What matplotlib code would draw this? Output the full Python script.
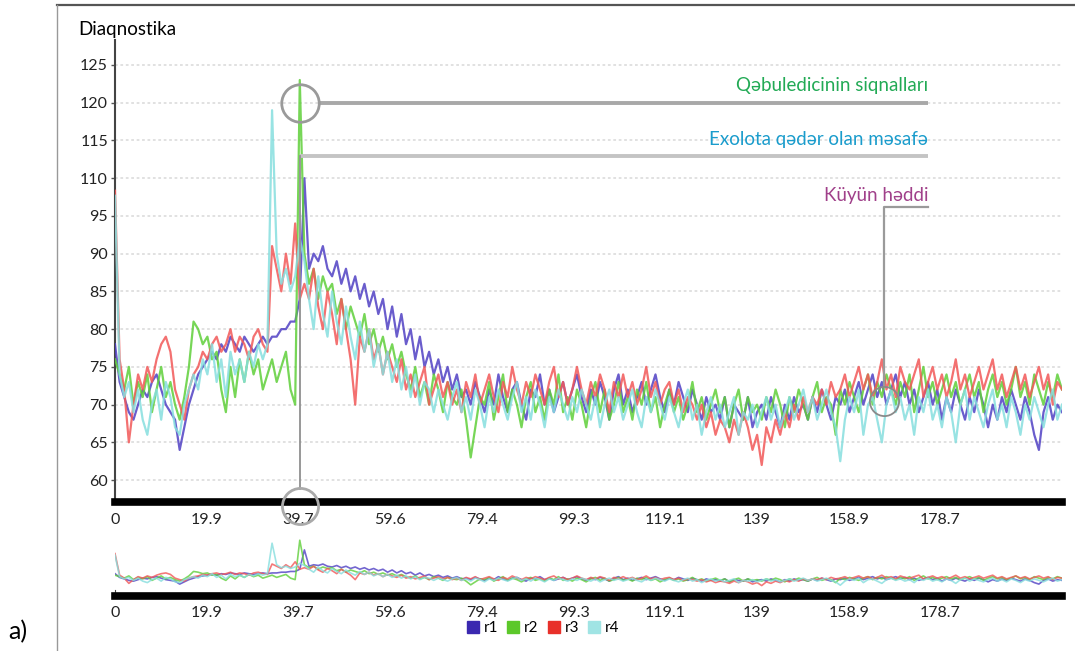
import matplotlib
matplotlib.use('Agg')
import matplotlib.pyplot as plt
from matplotlib.lines import Line2D
import numpy as np

plt.rcParams['font.family'] = ['Lato', 'DejaVu Sans']

# --- data (one value per x unit) ---
x = np.arange(0, 206)

r1 = [78, 73, 71, 69, 68, 70, 72, 71, 73, 74,
      72, 70, 69, 68, 64, 67, 70, 72, 74, 75,
      76, 77, 76, 78, 77, 79, 78, 77, 79, 78,
      77, 78, 79, 78, 79, 79, 80, 80, 81, 81,
      84, 110, 88, 90, 89, 91, 88, 87, 89, 86,
      88, 85, 87, 84, 86, 83, 85, 82, 84, 80,
      83, 79, 82, 78, 80, 76, 79, 75, 77, 74,
      76, 73, 75, 72, 74, 71, 72, 70, 73, 71,
      69, 72, 70, 74, 71, 69, 72, 73, 70, 68,
      72, 71, 74, 70, 72, 69, 71, 73, 70, 72,
      74, 71, 69, 72, 70, 73, 71, 68, 72, 74,
      70, 72, 69, 71, 73, 70, 72, 74, 71, 69,
      72, 70, 73, 71, 69, 72, 70, 68, 71, 69,
      70, 68, 71, 67, 70, 69, 68, 71, 67, 69,
      70, 68, 71, 69, 67, 70, 68, 71, 69, 70,
      68, 71, 69, 72, 70, 68, 71, 70, 72, 69,
      71, 73, 70, 72, 74, 71, 73, 70, 72, 74,
      71, 73, 70, 72, 69, 71, 73, 70, 72, 68,
      71, 69, 72, 70, 68, 71, 69, 72, 70, 67,
      70, 68, 71, 69, 72, 70, 68, 71, 69, 66,
      64, 69, 71, 68, 70, 69]

r2 = [76, 74, 72, 75, 70, 73, 71, 74, 69, 72,
      75, 71, 73, 70, 68, 71, 75, 81, 80, 78,
      79, 76, 77, 72, 69, 75, 71, 76, 73, 77,
      74, 76, 72, 74, 76, 73, 75, 77, 72, 70,
      123, 90, 86, 88, 84, 87, 85, 86, 82, 84,
      80, 83, 81, 79, 82, 78, 80, 77, 79, 76,
      78, 75, 77, 74, 72, 75, 71, 73, 70, 74,
      72, 69, 73, 71, 70, 72, 68, 63, 67, 71,
      70, 73, 68, 71, 74, 69, 72, 70, 67, 71,
      73, 69, 71, 68, 72, 70, 74, 69, 71, 68,
      72, 70, 67, 71, 73, 69, 72, 68, 70, 73,
      69, 71, 68, 72, 70, 73, 69, 71, 67, 70,
      72, 69, 71, 68, 70, 73, 69, 71, 68, 70,
      72, 69, 71, 67, 70, 72, 68, 71, 69, 70,
      68, 71, 69, 72, 70, 67, 71, 69, 72, 70,
      68, 71, 73, 69, 71, 70, 66, 72, 70, 73,
      71, 69, 72, 74, 70, 73, 71, 74, 72, 70,
      73, 71, 74, 69, 72, 75, 71, 73, 70, 72,
      74, 71, 73, 70, 72, 74, 71, 73, 69, 72,
      74, 71, 73, 70, 72, 75, 71, 73, 70, 74,
      72, 70, 73, 71, 74, 72]

r3 = [105, 76, 72, 65, 70, 74, 72, 75, 73, 76,
      78, 79, 77, 72, 70, 68, 72, 74, 75, 77,
      76, 78, 79, 77, 78, 80, 77, 79, 78, 76,
      79, 80, 78, 77, 91, 88, 85, 90, 86, 94,
      84, 86, 84, 88, 83, 80, 85, 82, 78, 84,
      80, 76, 70, 79, 77, 80, 76, 78, 74, 77,
      75, 73, 76, 72, 74, 71, 73, 75, 70, 72,
      74, 71, 73, 70, 72, 69, 73, 71, 74, 70,
      72, 74, 71, 69, 73, 71, 75, 72, 70, 73,
      71, 74, 72, 70, 73, 75, 71, 73, 70, 72,
      75, 72, 70, 73, 71, 74, 72, 69, 73, 71,
      74, 71, 73, 70, 72, 75, 71, 73, 70, 72,
      73, 70, 72, 69, 71, 70, 68, 70, 67, 69,
      66, 68, 67, 65, 68, 66, 69, 67, 64, 66,
      62, 67, 65, 68, 66, 69, 67, 70, 68, 71,
      69, 71, 70, 72, 70, 73, 71, 72, 74, 71,
      73, 75, 72, 74, 71, 73, 76, 72, 74, 71,
      75, 73, 72, 74, 76, 71, 73, 75, 72, 74,
      71, 73, 76, 72, 74, 71, 73, 75, 72, 74,
      76, 72, 74, 71, 73, 75, 72, 74, 71, 73,
      75, 72, 74, 70, 73, 72]

r4 = [103, 74, 71, 73, 69, 72, 68, 66, 70, 72,
      68, 73, 71, 67, 66, 70, 72, 74, 72, 76,
      74, 78, 73, 76, 71, 77, 74, 76, 73, 77,
      75, 78, 76, 78, 119, 90, 86, 88, 85, 87,
      92, 89, 84, 80, 87, 82, 79, 85, 81, 78,
      83, 79, 76, 81, 77, 80, 75, 78, 74, 77,
      73, 76, 72, 75, 71, 74, 70, 73, 72, 69,
      72, 70, 68, 71, 73, 69, 71, 68, 72, 70,
      67, 71, 69, 72, 70, 68, 71, 73, 69, 71,
      68, 72, 70, 67, 71, 69, 72, 70, 68, 71,
      69, 72, 70, 68, 71, 67, 70, 72, 69, 71,
      68, 70, 72, 69, 67, 71, 69, 72, 70, 68,
      71, 69, 67, 70, 72, 68, 70, 66, 69, 71,
      68, 70, 67, 69, 71, 66, 69, 68, 70, 67,
      69, 71, 68, 70, 67, 69, 71, 68, 70, 72,
      69, 71, 68, 70, 72, 69, 67, 62.5, 68, 71,
      69, 72, 66, 70, 71, 68, 65, 70, 72, 69,
      71, 68, 70, 66, 71, 69, 72, 68, 70, 67,
      71, 69, 65, 70, 72, 68, 71, 69, 67, 70,
      72, 68, 70, 67, 71, 69, 66, 70, 68, 71,
      69, 67, 70, 72, 68, 70]

series = {'r1': r1, 'r2': r2, 'r3': r3, 'r4': r4}
line_colors = {'r1': '#5040c4', 'r2': '#5fcf3a', 'r3': '#f25858', 'r4': '#86dede'}
legend_colors = {'r1': '#3a28b0', 'r2': '#5cc82a', 'r3': '#e8302a', 'r4': '#a0e4e4'}

xtick_vals = [0, 19.9, 39.7, 59.6, 79.4, 99.3, 119.1, 139, 158.9, 178.7]
ytick_vals = [60, 65, 70, 75, 80, 85, 90, 95, 110, 115, 120, 125]


# broken y axis: 95..110 squeezed into one tick step
def fwd(v):
    v = np.asarray(v, dtype=float)
    return np.where(v <= 95, v, np.where(v <= 110, 95 + (v - 95) / 3, v - 10))


def inv(d):
    d = np.asarray(d, dtype=float)
    return np.where(d <= 95, d, np.where(d <= 100, 95 + (d - 95) * 3, d + 10))


W, H = 1075, 651
fig = plt.figure(figsize=(W / 100, H / 100), dpi=100)
fig.patch.set_facecolor('white')

# ============================================================
# main panel
# ============================================================
ax = fig.add_axes([115 / W, 1 - 502 / H, (1062 - 115) / W, (502 - 40) / H])
ax.set_yscale('function', functions=(fwd, inv))

for name, vals in series.items():
    ax.plot(x, vals, color=line_colors[name], lw=1.6, alpha=0.85, zorder=3)

ax.set_xlim(0, 205)
ax.set_ylim(57.1, 128.3)
ax.set_yticks(ytick_vals)
ax.set_yticklabels([str(v) for v in ytick_vals], fontsize=11.5, color='#222222')
ax.set_xticks(xtick_vals)
ax.set_xticklabels([str(v) for v in xtick_vals], fontsize=11.5, color='#222222')
ax.tick_params(axis='x', length=0, pad=8)
ax.tick_params(axis='y', length=3, width=1, color='#555555', pad=2)
ax.yaxis.set_minor_locator(matplotlib.ticker.NullLocator())
ax.grid(axis='y', color='#dedede', linestyle=(0, (1.5, 1.5)), linewidth=1.3)
ax.set_axisbelow(True)
for s in ['top', 'right']:
    ax.spines[s].set_visible(False)
ax.spines['left'].set_color('#444444')
ax.spines['left'].set_linewidth(1.5)
ax.spines['bottom'].set_color('#000000')
ax.spines['bottom'].set_linewidth(5.5)

# annotations
guide = '#a8a8a8'
ax.plot([40], [120], marker='o', ms=27, mfc='none', mec='#9a9a9a', mew=2, zorder=5)
ax.plot([44, 176], [120, 120], color=guide, lw=2.8, zorder=4, solid_capstyle='butt')
ax.text(176, 121.2, 'Qəbuledicinin siqnalları', color='#22aa55', fontsize=13.5,
        ha='right', va='bottom')

ax.plot([40, 176], [113, 113], color='#c4c4c4', lw=2.8, zorder=4, solid_capstyle='butt')
ax.plot([40, 40], [113, 58.8], color='#909090', lw=1.3, zorder=4)
ax.plot([40], [56.6], marker='o', ms=26, mfc='none', mec='#aaaaaa', mew=2,
        zorder=5, clip_on=False)
ax.text(176, 114.0, 'Exolota qədər olan məsafə', color='#1a9ccc', fontsize=13.5,
        ha='right', va='bottom')

ax.plot([176, 166.5, 166.5], [98.6, 98.6, 72.5], color='#9a9a9a', lw=1.6, zorder=4)
ax.plot([166.5], [70.5], marker='o', ms=21, mfc='none', mec='#8a8a8a', mew=1.3, zorder=5)
ax.text(176, 99.6, 'Küyün həddi', color='#a0408a', fontsize=13.5,
        ha='right', va='bottom')

# ============================================================
# overview panel
# ============================================================
ax2 = fig.add_axes([115 / W, 1 - 596 / H, (1062 - 115) / W, (596 - 535) / H])
for name, vals in series.items():
    ax2.plot(x, vals, color=line_colors[name], lw=1.2, alpha=0.8)
ax2.set_xlim(0, 205)
ax2.set_ylim(48, 130)
ax2.set_yticks([])
ax2.set_xticks(xtick_vals)
ax2.set_xticklabels([str(v) for v in xtick_vals], fontsize=11.5, color='#222222')
ax2.tick_params(axis='x', length=0, pad=7)
for s in ['top', 'right']:
    ax2.spines[s].set_visible(False)
ax2.spines['left'].set_bounds(48, 56)
ax2.spines['left'].set_color('#444444')
ax2.spines['bottom'].set_color('#000000')
ax2.spines['bottom'].set_linewidth(5.5)

handles = [Line2D([], [], marker='s', ls='none', ms=8, color=legend_colors[n], label=n)
           for n in series]
fig.legend(handles=handles, loc='center', bbox_to_anchor=(543 / W, 1 - 628 / H), ncol=4,
           frameon=False, fontsize=11, handletextpad=0.3, columnspacing=0.6,
           handlelength=0.8, borderpad=0)

# texts and frame
fig.text(78 / W, 1 - 30 / H, 'Diaqnostika', fontsize=13.5, va='center', ha='left')
fig.text(8 / W, 1 - 632 / H, 'a)', fontsize=18, va='center', ha='left')
fig.add_artist(Line2D([57 / W, 1], [1 - 5 / H, 1 - 5 / H], color='#555555', lw=1.6))
fig.add_artist(Line2D([57 / W, 57 / W], [0, 1 - 5 / H], color='#999999', lw=1.0))

fig.savefig('out.png', dpi=100)
